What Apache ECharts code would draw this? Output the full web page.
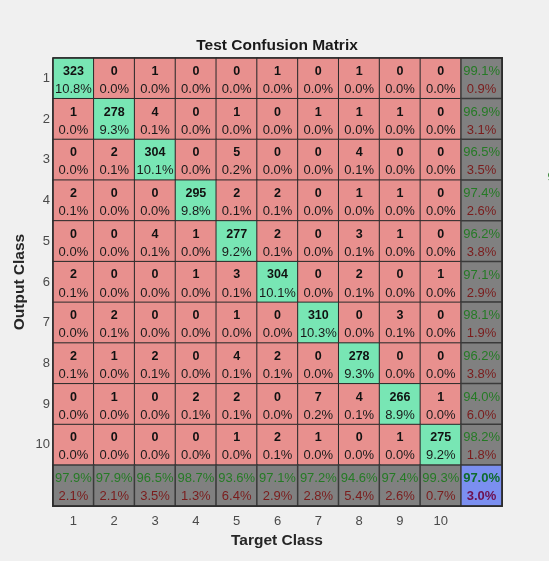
<!DOCTYPE html>
<html>
<head>
<meta charset="utf-8">
<script src="https://cdn.jsdelivr.net/npm/echarts@6/dist/echarts.min.js"></script>
<style>
html,body{margin:0;padding:0;background:#f0f0f0;}
#chart{width:549px;height:561px;}
</style>
</head>
<body>
<div id="chart"></div>
<script>
// Class labels
const classes = ['1','2','3','4','5','6','7','8','9','10'];
// Confusion counts: rows = Output Class, columns = Target Class
const row1  = [323,0,1,0,0,1,0,1,0,0];
const row2  = [1,278,4,0,1,0,1,1,1,0];
const row3  = [0,2,304,0,5,0,0,4,0,0];
const row4  = [2,0,0,295,2,2,0,1,1,0];
const row5  = [0,0,4,1,277,2,0,3,1,0];
const row6  = [2,0,0,1,3,304,0,2,0,1];
const row7  = [0,2,0,0,1,0,310,0,3,0];
const row8  = [2,1,2,0,4,2,0,278,0,0];
const row9  = [0,1,0,2,2,0,7,4,266,1];
const row10 = [0,0,0,0,1,2,1,0,1,275];
const counts = [row1,row2,row3,row4,row5,row6,row7,row8,row9,row10];
// Row summary (precision) shown in right column
const rowCorrect = ['99.1%','96.9%','96.5%','97.4%','96.2%','97.1%','98.1%','96.2%','94.0%','98.2%'];
const rowWrong   = ['0.9%','3.1%','3.5%','2.6%','3.8%','2.9%','1.9%','3.8%','6.0%','1.8%'];
// Column summary (recall) shown in bottom row
const colCorrect = ['97.9%','97.9%','96.5%','98.7%','93.6%','97.1%','97.2%','94.6%','97.4%','99.3%'];
const colWrong   = ['2.1%','2.1%','3.5%','1.3%','6.4%','2.9%','2.8%','5.4%','2.6%','0.7%'];
// Overall
const totalCorrect = '97.0%';
const totalWrong = '3.0%';
const totalCount = 3000;

const RED = '#e8908e', GREEN = '#78e6b4', GRAY = '#808080', BLUE = '#7b8ff0';
const axisCats = classes.concat(['']);

const data = [];
for (let i = 0; i < 10; i++) {
  for (let j = 0; j < 10; j++) {
    const v = counts[i][j];
    const pct = (v / totalCount * 100).toFixed(1) + '%';
    data.push({
      value: [j, i, v],
      itemStyle: { color: i === j ? GREEN : RED },
      label: { formatter: '{c|' + v + '}\n{p|' + pct + '}' }
    });
  }
  data.push({
    value: [10, i, 0],
    itemStyle: { color: GRAY, borderColor: '#3a3a3a', borderWidth: 1.5 },
    label: { formatter: '{g|' + rowCorrect[i] + '}\n{r|' + rowWrong[i] + '}' }
  });
}
for (let j = 0; j < 10; j++) {
  data.push({
    value: [j, 10, 0],
    itemStyle: { color: GRAY, borderColor: '#3a3a3a', borderWidth: 1.5 },
    label: { formatter: '{g|' + colCorrect[j] + '}\n{r|' + colWrong[j] + '}' }
  });
}
data.push({
  value: [10, 10, 0],
  itemStyle: { color: BLUE, borderColor: '#3a3a3a', borderWidth: 1.5 },
  label: { formatter: '{gb|' + totalCorrect + '}\n{rb|' + totalWrong + '}' }
});

const FONT = '"Liberation Sans", Arial, Helvetica, sans-serif';
const chart = echarts.init(document.getElementById('chart'), null, {renderer: 'canvas'});
chart.setOption({
  backgroundColor: '#f0f0f0',
  animation: false,
  textStyle: { fontFamily: FONT },
  grid: { left: 53, top: 58, width: 449, height: 448 },
  xAxis: {
    type: 'category', data: axisCats, position: 'bottom',
    axisLine: { show: false }, axisTick: { show: false }, splitLine: { show: false },
    axisLabel: { margin: 9, fontSize: 13, color: '#4a4a4a', fontFamily: FONT }
  },
  yAxis: {
    type: 'category', data: axisCats, inverse: true,
    axisLine: { show: false }, axisTick: { show: false }, splitLine: { show: false },
    axisLabel: { margin: 3, fontSize: 13, color: '#4a4a4a', fontFamily: FONT }
  },
  series: [{
    type: 'heatmap',
    data: data,
    itemStyle: { borderColor: '#2a2a2a', borderWidth: 1 },
    label: {
      show: true,
      offset: [0, 2],
      fontFamily: FONT,
      rich: {
        c: { fontWeight: 'bold', fontSize: 12.5, color: '#111', lineHeight: 18, fontFamily: FONT },
        p: { fontSize: 13, color: '#1a1a1a', lineHeight: 18, fontFamily: FONT },
        g: { fontSize: 13, color: '#257a25', lineHeight: 18, fontFamily: FONT },
        r: { fontSize: 13, color: '#7a1c1c', lineHeight: 18, fontFamily: FONT },
        gb: { fontSize: 13, fontWeight: 'bold', color: '#0f6b2e', lineHeight: 18, fontFamily: FONT },
        rb: { fontSize: 13, fontWeight: 'bold', color: '#6e1050', lineHeight: 18, fontFamily: FONT }
      }
    },
    emphasis: { disabled: true }
  }],
  graphic: [
    { type: 'text', x: 277, y: 46,
      style: { text: 'Test Confusion Matrix', font: 'bold 15.5px ' + FONT, fill: '#1a1a1a', textAlign: 'center', textVerticalAlign: 'middle' } },
    { type: 'text', x: 277, y: 541,
      style: { text: 'Target Class', font: 'bold 15.5px ' + FONT, fill: '#262626', textAlign: 'center', textVerticalAlign: 'middle' } },
    { type: 'text', x: 20, y: 282, rotation: Math.PI / 2,
      style: { text: 'Output Class', font: 'bold 15.5px ' + FONT, fill: '#262626', textAlign: 'center', textVerticalAlign: 'middle' } },
    { type: 'rect', shape: { x: 53, y: 58, width: 449, height: 448 },
      style: { fill: 'none', stroke: '#2a2a2a', lineWidth: 1.5 }, z: 100 },
    { type: 'text', x: 547.5, y: 177,
      style: { text: '9', font: '13px ' + FONT, fill: '#257a25', textAlign: 'left', textVerticalAlign: 'middle' } }
  ]
});
</script>
</body>
</html>
